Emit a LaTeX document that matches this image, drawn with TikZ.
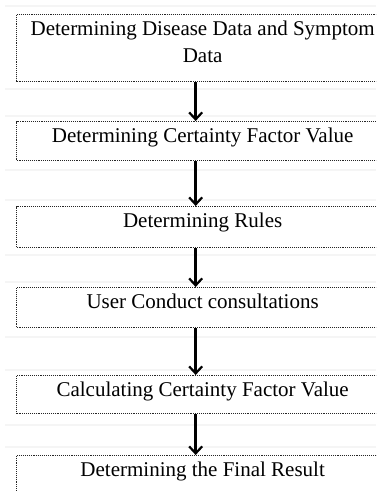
\documentclass[tikz,border=0pt]{standalone}
\usepackage{fontspec}
\setmainfont{Liberation Serif}
\usetikzlibrary{arrows.meta}
\begin{document}
\begin{tikzpicture}[x=1pt,y=1pt,
  flowbox/.style={draw=black!85, line width=1.3pt, dash pattern=on 1pt off 0.9pt, rectangle,
    minimum width=372pt, inner sep=0pt, anchor=north west},
  lbl/.style={font=\fontsize{21}{27}\selectfont, anchor=north, align=center,
    inner sep=0pt, yshift=-7pt},
  flowarrow/.style={line width=2.4pt, -{Straight Barb[length=7pt,width=13pt,line width=2.2pt]}},
  faint/.style={draw=black!4, line width=1.2pt}]
\useasboundingbox (0,0) rectangle (376,491);
\clip (0,0) rectangle (376,491);
% faint table rules
\foreach \yy in {485,402,375,321,291,236,209,154,121,66,44}
  \draw[faint] (5,\yy) -- (376,\yy);
% boxes
\node[flowbox, minimum height=67pt, label={[lbl]north:Determining Disease Data and Symptom\\Data}] (b1) at (16,477) {};
\node[flowbox, minimum height=39pt, label={[lbl]north:Determining Certainty Factor Value}] (b2) at (16,370) {};
\node[flowbox, minimum height=41pt, label={[lbl]north:Determining Rules}] (b3) at (16,285) {};
\node[flowbox, minimum height=40pt, label={[lbl]north:User Conduct consultations}] (b4) at (16,204) {};
\node[flowbox, minimum height=38pt, label={[lbl]north:Calculating Certainty Factor Value}] (b5) at (16,116) {};
\node[flowbox, minimum height=50pt, label={[lbl]north:Determining the Final Result}] (b6) at (16,36) {};
% arrows
\foreach \a/\b in {b1/b2,b2/b3,b3/b4,b4/b5,b5/b6}
  \draw[flowarrow] ([xshift=-7pt]\a.south) -- ([xshift=-7pt]\b.north);
\end{tikzpicture}
\end{document}
